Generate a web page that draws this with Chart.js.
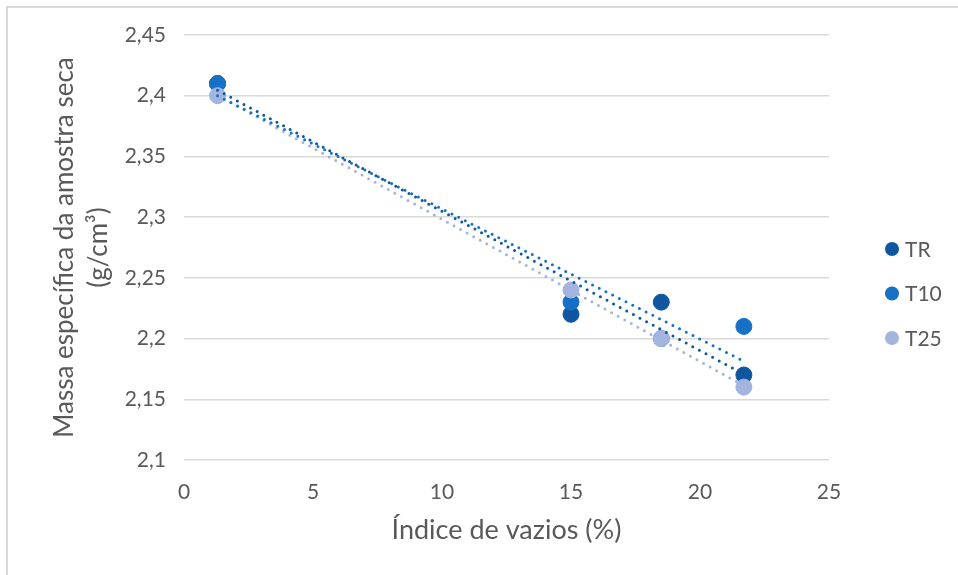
<!DOCTYPE html>
<html>
<head>
<meta charset="utf-8">
<title>Massa específica x Índice de vazios</title>
<script src="https://cdn.jsdelivr.net/npm/chart.js@4.4.0/dist/chart.umd.min.js"></script>
<style>
  body { margin: 0; background: #fff; }
  #frame {
    position: absolute; left: 6px; top: 6px; width: 952px; height: 569px;
    border-left: 2px solid #d9d9d9; border-top: 2px solid #d9d9d9;
  }
  #wrap { position: absolute; left: 0; top: 0; width: 958px; height: 575px; }
</style>
</head>
<body>
<div id="frame"></div>
<div id="wrap"><canvas id="scatterChart"></canvas></div>
<script>
  // valores medidos por traço
  const seriesNames = ["TR", "T10", "T25"];
  const seriesColors = ["#0E57A0", "#1570C6", "#A3B5DE"];
  const voidIndex = [1.3, 15, 18.5, 21.7];
  const densityTR = [2.41, 2.22, 2.23, 2.17];
  const densityT10 = [2.41, 2.23, 2.2, 2.21];
  const densityT25 = [2.4, 2.24, 2.2, 2.16];
  const xTicks = [0, 5, 10, 15, 20, 25];
  const yTicks = [2.1, 2.15, 2.2, 2.25, 2.3, 2.35, 2.4, 2.45];

  const densities = [densityTR, densityT10, densityT25];
  const textColor = "#595959";
  const fontFamily = "Lato, 'Open Sans', sans-serif";

  // linha de tendência linear (mínimos quadrados) entre o menor e o maior x
  function trendLine(xs, ys) {
    const n = xs.length;
    const mx = xs.reduce((a, b) => a + b, 0) / n;
    const my = ys.reduce((a, b) => a + b, 0) / n;
    let sxy = 0, sxx = 0;
    xs.forEach((x, i) => {
      sxy += (x - mx) * (ys[i] - my);
      sxx += (x - mx) * (x - mx);
    });
    const slope = sxy / sxx;
    const x0 = Math.min(...xs), x1 = Math.max(...xs);
    return [
      { x: x0, y: my + slope * (x0 - mx) },
      { x: x1, y: my + slope * (x1 - mx) },
    ];
  }

  // menor "order" fica por cima
  const pointSets = seriesNames.map((name, i) => ({
    type: "scatter",
    label: name,
    data: voidIndex.map((x, j) => ({ x: x, y: densities[i][j] })),
    backgroundColor: seriesColors[i],
    borderColor: seriesColors[i],
    pointRadius: 8,
    pointHoverRadius: 8,
    order: 5 - i,
  }));

  const trendSets = seriesNames.map((name, i) => ({
    type: "line",
    label: name + " (tendência)",
    data: trendLine(voidIndex, densities[i]),
    borderColor: seriesColors[i],
    borderWidth: 3,
    borderDash: [0, 7.5],
    borderCapStyle: "round",
    pointRadius: 0,
    fill: false,
    order: i,
  }));

  // legenda à direita
  const sideLegend = {
    id: "sideLegend",
    afterDraw(chart) {
      const c = chart.ctx;
      c.save();
      c.font = "21px " + fontFamily;
      c.textBaseline = "middle";
      seriesNames.forEach((name, i) => {
        const y = 249 + i * 44.5;
        c.fillStyle = seriesColors[i];
        c.beginPath();
        c.arc(892, y, 7, 0, Math.PI * 2);
        c.fill();
        c.fillStyle = textColor;
        c.fillText(name, 905, y + 1);
      });
      c.restore();
    },
  };

  new Chart(document.getElementById("scatterChart"), {
    type: "scatter",
    data: { datasets: [...pointSets, ...trendSets] },
    options: {
      responsive: true,
      maintainAspectRatio: false,
      animation: false,
      layout: { padding: { top: 35, right: 129, left: 0, bottom: 0 } },
      plugins: {
        legend: { display: false },
        tooltip: { enabled: false },
      },
      scales: {
        x: {
          type: "linear",
          min: 0,
          max: 25,
          afterBuildTicks: (s) => { s.ticks = xTicks.map((v) => ({ value: v })); },
          afterFit: (s) => { s.height = 115; },
          grid: { display: false },
          border: { display: false },
          ticks: { color: textColor, font: { family: fontFamily, size: 21 }, padding: 12 },
          title: {
            display: true,
            text: "Índice de vazios (%)",
            color: textColor,
            font: { family: fontFamily, size: 27 },
            padding: { top: 0, bottom: 29 },
          },
        },
        y: {
          type: "linear",
          min: 2.1,
          max: 2.45,
          afterBuildTicks: (s) => { s.ticks = yTicks.map((v) => ({ value: v })); },
          afterFit: (s) => { s.width = 184; },
          grid: { color: "#d9d9d9", lineWidth: 1.5, drawTicks: false },
          border: { display: false },
          ticks: {
            color: textColor,
            font: { family: fontFamily, size: 21 },
            padding: 18,
            callback: (v) => String(v).replace(".", ","),
          },
          title: {
            display: true,
            text: ["Massa específica da amostra seca", "(g/cm³)"],
            color: textColor,
            font: { family: fontFamily, size: 26, lineHeight: 1.33 },
            padding: { top: 47, bottom: 0 },
          },
        },
      },
    },
    plugins: [sideLegend],
  });
</script>
</body>
</html>
